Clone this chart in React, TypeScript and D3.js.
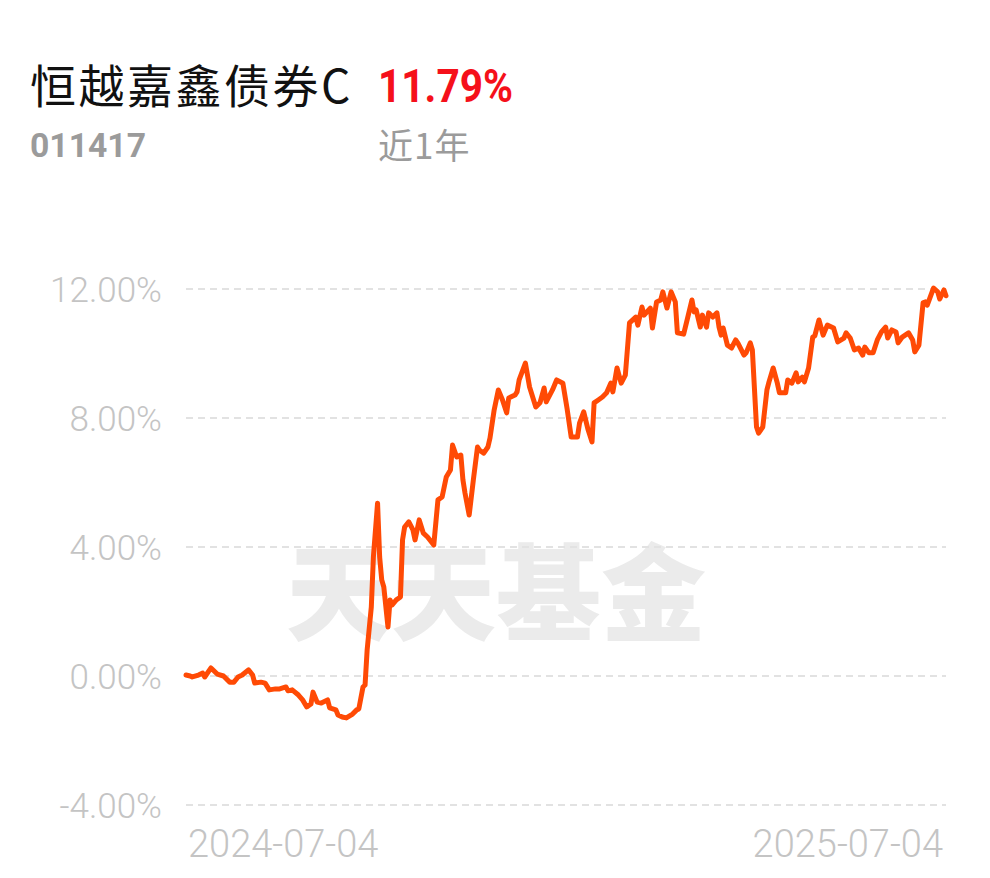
import React from "react";
import * as d3 from "d3";

const fundName = "恒越嘉鑫债券C";
const fundCode = "011417";
const periodReturn = "11.79%";
const periodLabel = "近1年";
const watermark = "天天基金";

const startDate = "2024-07-04";
const endDate = "2025-07-04";
const xTickLabels = ["2024-07-04", "2025-07-04"];
const yTicks = [12, 8, 4, 0, -4];

// calendar-day offset from 2024-07-04
const dayOffsets = [
  0, 2, 3, 6, 8, 9, 12, 15, 18, 21, 23, 25, 27, 30, 32, 33, 36, 38, 40, 43, 45, 48, 49, 51, 54, 56, 58, 60,
  61, 63, 65, 68, 69, 72, 73, 75, 77, 80, 82, 83, 85, 86, 87, 89, 90, 92, 93, 94, 95, 97, 98, 99, 101, 103,
  104, 105, 107, 109, 110, 112, 114, 116, 119, 121, 123, 125, 127, 128, 130, 132, 133, 134, 136, 138, 140,
  141, 143, 145, 146, 148, 150, 152, 154, 155, 158, 159, 160, 163, 165, 168, 170, 172, 173, 176, 178, 181,
  183, 185, 188, 189, 191, 193, 195, 196, 198, 200, 202, 204, 205, 207, 209, 211, 213, 216, 217, 219, 220,
  223, 224, 226, 228, 229, 231, 233, 235, 236, 239, 241, 243, 244, 245, 247, 248, 250, 251, 253, 255, 256,
  257, 258, 260, 262, 264, 265, 268, 269, 271, 272, 274, 275, 277, 279, 280, 282, 284, 285, 288, 289, 291,
  293, 294, 296, 297, 299, 301, 302, 304, 306, 308, 311, 313, 316, 317, 319, 321, 323, 325, 326, 328, 330,
  332, 334, 336, 337, 339, 341, 342, 344, 347, 349, 350, 352, 354, 355, 356, 359, 361, 362, 364, 365,
];

// cumulative return, %
const returnPct = [
  0.03, 0.0, -0.03, 0.03, 0.09, -0.03, 0.25, 0.06, 0.0, -0.19, -0.19, -0.03, 0.03, 0.19, 0.03, -0.22, -0.19,
  -0.22, -0.43, -0.4, -0.4, -0.34, -0.46, -0.43, -0.59, -0.74, -0.96, -0.87, -0.5, -0.81, -0.84, -0.74, -0.99,
  -1.05, -1.21, -1.27, -1.3, -1.18, -1.05, -1.02, -0.34, -0.28, 0.81, 2.14, 3.69, 5.36, 3.69, 2.98, 2.76,
  1.52, 2.36, 2.2, 2.36, 2.45, 4.22, 4.62, 4.78, 4.53, 4.22, 4.84, 4.43, 4.31, 4.06, 5.46, 5.55, 6.17, 6.39,
  7.16, 6.79, 6.85, 6.08, 5.67, 4.99, 6.08, 7.1, 7.0, 6.91, 7.1, 7.38, 8.25, 8.87, 8.56, 8.16, 8.62, 8.71,
  8.81, 9.18, 9.7, 8.96, 8.34, 8.47, 8.93, 8.5, 8.87, 9.18, 9.08, 8.3, 7.41, 7.41, 7.84, 8.19, 7.66, 7.26,
  8.47, 8.56, 8.65, 8.78, 9.08, 8.81, 9.55, 9.08, 9.33, 10.95, 11.13, 10.88, 11.44, 11.19, 11.41, 10.79,
  11.6, 11.66, 11.91, 11.41, 11.91, 11.6, 10.64, 10.6, 11.13, 11.66, 11.29, 11.35, 10.82, 11.19, 10.82,
  11.26, 11.13, 11.26, 10.82, 10.57, 10.79, 10.26, 10.17, 10.42, 10.33, 9.95, 10.02, 10.33, 10.11, 7.72,
  7.53, 7.72, 8.87, 9.12, 9.55, 9.08, 8.78, 8.78, 9.18, 9.08, 9.4, 9.12, 9.27, 9.12, 9.55, 10.51, 10.55,
  11.04, 10.57, 10.88, 10.79, 10.36, 10.48, 10.64, 10.48, 10.11, 10.17, 9.95, 10.2, 10.02, 10.02, 10.42,
  10.67, 10.82, 10.48, 10.73, 10.67, 10.33, 10.51, 10.64, 10.42, 10.05, 10.26, 11.57, 11.6, 11.5, 12.03,
  11.91, 11.69, 11.97, 11.79,
];

const W = 990;
const H = 878;
const plotLeft = 186;
const plotRight = 946;

export default function App() {
  const start = new Date(startDate + "T00:00:00");
  const end = new Date(endDate + "T00:00:00");
  const x = d3.scaleTime().domain([start, end]).range([plotLeft, plotRight]);
  const y = d3.scaleLinear().domain([-4, 12]).range([805, 289]);

  const data = dayOffsets.map((d, i) => ({
    date: d3.timeDay.offset(start, d),
    v: returnPct[i],
  }));

  const line = d3
    .line<{ date: Date; v: number }>()
    .x((d) => x(d.date))
    .y((d) => y(d.v))
    .curve(d3.curveLinear);

  const fmt = (v: number) => v.toFixed(2) + "%";

  return (
    <div style={{ position: "fixed", left: 0, top: 0, width: W, height: H, background: "#fff" }}>
      <svg width={W} height={H} style={{ display: "block" }}>
        <rect width={W} height={H} fill="#fff" />
        {/* header */}
        <text
          x={30}
          y={103}
          fontFamily="'Noto Sans CJK SC', sans-serif"
          fontSize={46}
          letterSpacing={2.5}
          fill="#111"
        >
          {fundName}
        </text>
        <text
          x={378}
          y={102}
          fontFamily="Roboto, sans-serif"
          fontWeight={700}
          fontSize={46}
          fill="#f5101a"
          textLength={135}
          lengthAdjust="spacingAndGlyphs"
        >
          {periodReturn}
        </text>
        <text
          x={30}
          y={157}
          fontFamily="Roboto, sans-serif"
          fontWeight={700}
          fontSize={33}
          fill="#9b9b9b"
          textLength={116}
          lengthAdjust="spacingAndGlyphs"
        >
          {fundCode}
        </text>
        <text
          x={378}
          y={159}
          fontFamily="'Noto Sans CJK SC', sans-serif"
          fontSize={35}
          letterSpacing={1}
          fill="#9b9b9b"
        >
          {periodLabel}
        </text>

        {/* watermark */}
        <text
          x={496}
          y={632}
          textAnchor="middle"
          fontFamily="'Noto Sans CJK SC', sans-serif"
          fontWeight={900}
          fontSize={105}
          fill="#ebebeb"
        >
          {watermark}
        </text>

        {/* grid */}
        {yTicks.map((t) => (
          <g key={t}>
            <line
              x1={plotLeft}
              x2={plotRight}
              y1={y(t)}
              y2={y(t)}
              stroke="#e2e2e2"
              strokeWidth={2}
              strokeDasharray="7 5"
            />
            <text
              x={162}
              y={y(t)}
              dy="0.36em"
              textAnchor="end"
              fontFamily="Roboto, sans-serif"
              fontWeight={300}
              fontSize={35}
              fill="#c4c4c4"
            >
              {fmt(t)}
            </text>
          </g>
        ))}

        {/* x labels */}
        <text
          x={188}
          y={857}
          textAnchor="start"
          fontFamily="Roboto, sans-serif"
          fontWeight={300}
          fontSize={38}
          fill="#c4c4c4"
        >
          {xTickLabels[0]}
        </text>
        <text
          x={943}
          y={857}
          textAnchor="end"
          fontFamily="Roboto, sans-serif"
          fontWeight={300}
          fontSize={38}
          fill="#c4c4c4"
        >
          {xTickLabels[1]}
        </text>

        {/* line */}
        <path
          d={line(data) || ""}
          fill="none"
          stroke="#ff4a05"
          strokeWidth={5}
          strokeLinejoin="round"
          strokeLinecap="round"
        />
      </svg>
    </div>
  );
}
